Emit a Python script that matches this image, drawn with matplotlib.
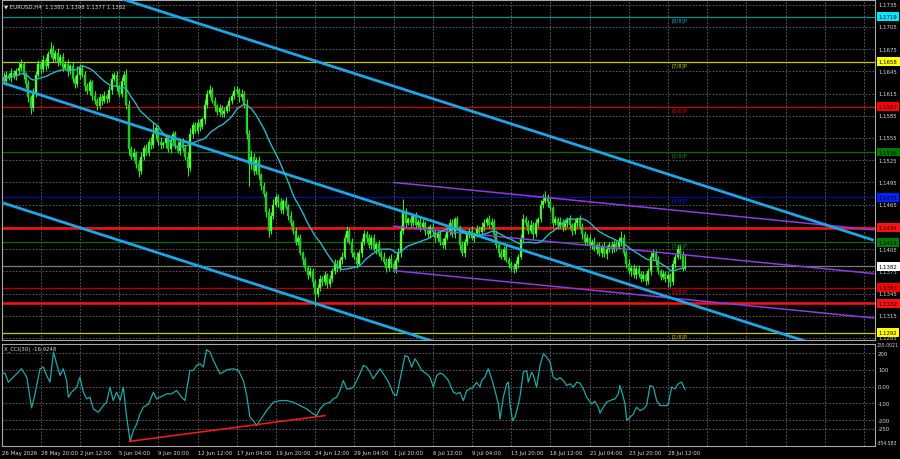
import matplotlib
matplotlib.use('Agg')
import matplotlib.pyplot as plt
import matplotlib.transforms as mtransforms
import pandas as pd

# ---------------- DATA ----------------
symbol_title = "\u25BC EURUSD,H4  1.1380 1.1398 1.1377 1.1382"
cci_title = "X_CCI(30) -16.9248"

first_open = 1.1640
closes = [
    1.1638, 1.1632, 1.1640, 1.1636, 1.1643, 1.1639, 1.1645, 1.1650, 1.1655, 1.1640,
    1.1628, 1.1610, 1.1595, 1.1615, 1.1640, 1.1655, 1.1648, 1.1660, 1.1652, 1.1668,
    1.1675, 1.1662, 1.1670, 1.1658, 1.1665, 1.1650, 1.1655, 1.1645, 1.1652, 1.1635,
    1.1628, 1.1640, 1.1650, 1.1640, 1.1625, 1.1618, 1.1630, 1.1612, 1.1605, 1.1598,
    1.1610, 1.1605, 1.1612, 1.1608, 1.1620, 1.1635, 1.1640, 1.1625, 1.1615, 1.1632,
    1.1640, 1.1600, 1.1540, 1.1530, 1.1535, 1.1520, 1.1510, 1.1530, 1.1542, 1.1535,
    1.1550, 1.1545, 1.1560, 1.1568, 1.1550, 1.1545, 1.1548, 1.1555, 1.1540, 1.1552,
    1.1560, 1.1545, 1.1538, 1.1550, 1.1542, 1.1530, 1.1515, 1.1560, 1.1572, 1.1565,
    1.1575, 1.1570, 1.1580, 1.1600, 1.1615, 1.1620, 1.1605, 1.1598, 1.1590, 1.1595,
    1.1588, 1.1592, 1.1598, 1.1605, 1.1612, 1.1618, 1.1620, 1.1610, 1.1615, 1.1600,
    1.1560, 1.1520, 1.1530, 1.1510, 1.1525, 1.1505, 1.1490, 1.1480, 1.1455, 1.1430,
    1.1450, 1.1465, 1.1475, 1.1468, 1.1458, 1.1470, 1.1462, 1.1450, 1.1440, 1.1430,
    1.1415, 1.1420, 1.1400, 1.1390, 1.1380, 1.1370, 1.1375, 1.1360, 1.1345, 1.1352,
    1.1365, 1.1360, 1.1370, 1.1358, 1.1365, 1.1375, 1.1385, 1.1380, 1.1390, 1.1395,
    1.1420, 1.1430, 1.1415, 1.1400, 1.1395, 1.1385, 1.1400, 1.1415, 1.1425, 1.1420,
    1.1410, 1.1420, 1.1405, 1.1412, 1.1400, 1.1395, 1.1388, 1.1380, 1.1392, 1.1385,
    1.1378, 1.1390, 1.1400, 1.1430, 1.1455, 1.1440, 1.1445, 1.1440, 1.1450, 1.1438,
    1.1442, 1.1435, 1.1440, 1.1430, 1.1425, 1.1435, 1.1428, 1.1420, 1.1425, 1.1415,
    1.1410, 1.1420, 1.1430, 1.1440, 1.1425, 1.1445, 1.1435, 1.1410, 1.1400, 1.1415,
    1.1425, 1.1430, 1.1420, 1.1425, 1.1432, 1.1428, 1.1435, 1.1440, 1.1445, 1.1438,
    1.1442, 1.1425, 1.1410, 1.1400, 1.1395, 1.1405, 1.1390, 1.1385, 1.1380, 1.1378,
    1.1385, 1.1395, 1.1420, 1.1445, 1.1440, 1.1430, 1.1438, 1.1425, 1.1440, 1.1445,
    1.1465, 1.1470, 1.1475, 1.1468, 1.1460, 1.1440, 1.1445, 1.1438, 1.1442, 1.1435,
    1.1440, 1.1445, 1.1437, 1.1430, 1.1440, 1.1445, 1.1435, 1.1425, 1.1415, 1.1420,
    1.1410, 1.1415, 1.1405, 1.1410, 1.1400, 1.1408, 1.1398, 1.1405, 1.1410, 1.1405,
    1.1412, 1.1408, 1.1415, 1.1420, 1.1400, 1.1385, 1.1375, 1.1380, 1.1370, 1.1378,
    1.1372, 1.1365, 1.1370, 1.1362, 1.1375, 1.1395, 1.1400, 1.1390, 1.1375, 1.1368,
    1.1372, 1.1365, 1.1370, 1.1360, 1.1385, 1.1395, 1.1405, 1.1398, 1.1380, 1.1382,
]
wick_up_pips = [
    4, 6, 5, 3, 6, 4, 5, 7, 6, 3,
    4, 5, 3, 8, 6, 5, 4, 7, 5, 4,
    10, 5, 4, 6, 3, 5, 4, 6, 3, 5,
    4, 12, 5, 3, 6, 4, 5, 3, 6, 4,
    5, 4, 6, 3, 5, 8, 4, 5, 3, 6,
    5, 8, 6, 4, 7, 3, 5, 6, 4, 5,
    4, 6, 17, 5, 4, 6, 3, 5, 4, 6,
    5, 4, 6, 3, 5, 4, 6, 8, 5, 4,
    5, 6, 4, 7, 5, 6, 4, 5, 3, 6,
    4, 5, 3, 6, 4, 7, 5, 3, 6, 4,
    8, 6, 9, 5, 4, 6, 3, 5, 4, 6,
    5, 8, 4, 5, 6, 3, 5, 4, 6, 4,
    5, 4, 6, 3, 5, 4, 6, 5, 4, 6,
    5, 4, 6, 3, 5, 4, 6, 5, 4, 6,
    5, 6, 4, 5, 3, 6, 4, 5, 6, 4,
    5, 4, 6, 3, 5, 4, 6, 5, 4, 6,
    4, 5, 6, 8, 17, 5, 4, 6, 3, 5,
    4, 6, 5, 3, 6, 4, 5, 3, 6, 4,
    5, 6, 4, 5, 6, 4, 5, 3, 6, 4,
    5, 4, 6, 3, 5, 4, 6, 5, 4, 6,
    5, 4, 6, 3, 5, 4, 6, 5, 4, 6,
    5, 4, 6, 8, 5, 4, 6, 3, 5, 4,
    6, 10, 8, 4, 6, 3, 5, 4, 6, 4,
    5, 4, 6, 3, 5, 4, 6, 5, 4, 6,
    5, 4, 6, 3, 5, 4, 6, 5, 4, 6,
    5, 4, 6, 10, 5, 4, 6, 3, 5, 4,
    5, 4, 6, 3, 5, 6, 5, 4, 6, 3,
    5, 4, 6, 3, 5, 4, 6, 5, 4, 16,
]
wick_dn_pips = [
    5, 4, 6, 3, 5, 4, 6, 5, 4, 6,
    5, 6, 8, 4, 5, 3, 6, 4, 5, 3,
    4, 5, 3, 6, 4, 5, 3, 6, 4, 5,
    6, 4, 5, 3, 6, 4, 5, 6, 4, 5,
    4, 5, 3, 6, 4, 5, 3, 6, 4, 5,
    5, 6, 8, 4, 5, 6, 8, 4, 5, 3,
    4, 5, 3, 6, 4, 5, 3, 6, 4, 5,
    4, 5, 3, 6, 4, 5, 11, 4, 5, 3,
    4, 5, 3, 6, 4, 5, 3, 6, 4, 5,
    4, 5, 3, 6, 4, 5, 3, 6, 4, 5,
    6, 30, 7, 5, 4, 6, 5, 4, 6, 8,
    4, 5, 3, 6, 4, 5, 3, 6, 4, 5,
    4, 5, 3, 6, 4, 5, 3, 6, 18, 5,
    4, 5, 3, 6, 4, 5, 3, 6, 4, 5,
    4, 5, 3, 6, 4, 5, 3, 6, 4, 5,
    4, 5, 3, 6, 4, 5, 3, 6, 4, 5,
    4, 5, 3, 6, 4, 5, 3, 6, 4, 5,
    4, 5, 3, 6, 4, 5, 3, 6, 4, 5,
    4, 5, 3, 6, 4, 5, 3, 6, 4, 5,
    4, 5, 3, 6, 4, 5, 3, 6, 4, 5,
    4, 5, 3, 6, 4, 5, 3, 6, 4, 5,
    4, 5, 3, 6, 4, 5, 3, 6, 4, 5,
    4, 5, 3, 6, 4, 5, 3, 6, 4, 5,
    4, 5, 3, 6, 4, 5, 3, 6, 4, 5,
    4, 5, 3, 6, 4, 5, 3, 6, 4, 5,
    4, 5, 3, 6, 4, 5, 3, 6, 4, 5,
    4, 5, 3, 6, 4, 5, 3, 6, 4, 5,
    4, 5, 11, 6, 4, 5, 3, 6, 4, 3,
]
ma_period = 20

# CCI trace (bar position, value)
cci_bars = [0, 1.4, 2.8, 4.8, 8.2, 10.3, 12.3, 13.7, 15.7, 17.1, 18.4, 19.8, 21.2, 22.5, 23.9,
            25.2, 26.6, 27.3, 28.6, 30.7, 32.0, 33.4, 34.8, 36.1, 37.5, 39.5, 41.6, 42.9, 44.3,
            45.6, 47.0, 48.4, 49.7, 51.1, 52.5, 53.8, 55.2, 56.5, 57.9, 60.0, 62.0, 63.3, 64.7,
            67.4, 69.4, 71.5, 73.5, 74.9, 76.9, 78.3, 79.6, 81.0, 82.4, 83.7, 85.1, 86.5, 87.8,
            89.2, 90.5, 91.9, 94.6, 96.7, 98.7, 100.1, 101.4, 102.8, 104.1, 105.5, 106.9, 108.2,
            111.0, 113.7, 116.4, 119.1, 121.8, 124.6, 127.3, 128.6, 130.0, 132.0, 134.1, 135.4,
            136.8, 138.2, 139.5, 140.9, 142.2, 143.6, 145.0, 146.3, 147.7, 149.0, 150.4, 151.7,
            153.1, 154.5, 155.8, 157.2, 158.6, 159.9, 161.3, 162.6, 164.0, 164.7, 166.0, 167.4,
            168.8, 170.1, 171.5, 173.5, 174.9, 176.3, 177.6, 179.0, 180.3, 182.4, 184.4, 185.8,
            187.1, 188.5, 189.9, 191.2, 192.6, 193.9, 195.3, 196.0, 197.3, 198.7, 200.1, 201.4,
            202.8, 203.5, 204.8, 206.2, 206.9, 207.5, 208.6, 209.6, 211.0, 211.6, 213.0, 214.4,
            215.0, 216.4, 217.1, 218.4, 219.8, 221.2, 222.5, 223.9, 225.2, 226.6, 228.0, 229.3,
            230.7, 232.0, 233.4, 234.8, 236.1, 237.5, 238.8, 240.9, 242.2, 243.6, 244.3, 245.6,
            247.0, 248.3, 250.4, 251.8, 252.4, 253.1, 254.5, 255.2, 256.5, 257.9, 259.2, 260.6,
            262.0, 263.3, 264.7, 266.1, 267.4, 268.8, 270.1, 271.5, 272.2, 273.5, 274.9, 276.2,
            277.6, 279.0]
cci_vals = [77, 81, 27, 57, 107, 57, -127, -43, 107, 117, 67, 27, 207, 137, 67,
            107, 37, -63, -33, -3, 57, -33, -73, -63, -133, -153, -113, -93, -3,
            -83, -33, -83, -3, -183, -327, -263, -223, -163, -123, -103, -33, -73, -63,
            -43, -43, -23, -63, -83, 97, 97, 127, 137, 117, 221, 207, 157, 117,
            77, 87, 101, 107, 97, 37, -53, -183, -203, -233, -203, -173, -143,
            -93, -83, -83, -93, -113, -133, -163, -173, -133, -103, -93, -73,
            -63, -23, 37, -13, -13, -3, 37, 77, 127, 117, 87, 47,
            77, 107, 77, 47, 7, -43, -53, 37, 137, 187, 177, 117,
            167, 137, 97, 77, 57, -3, 67, 81, 73, 37, -33, -43,
            -33, -83, -23, -13, -3, 27, -3, 37, 57, 107, 47, -23,
            -103, -193, -63, 17, 27, -103, -203, -183, -103, -63, 87, 97,
            27, 87, 67, -3, 127, 197, 177, 147, 57, 41, 53, 37,
            7, 17, -3, 27, 21, -13, -63, -103, -87, -123, -159, -123,
            -93, -83, -73, -43, 7, -23, -103, -203, -183, -163, -123, -143,
            -133, -113, 7, -3, -83, -113, -113, -113, -103, -3, -13, 17,
            27, -17]
cci_trend_bars = [52.2, 132.0]
cci_trend_vals = [-327, -173]
cci_min, cci_max = -354.583, 255.0021
cci_ticks = [200, 100, 0, -100, -200, -250]
cci_tick_labels = ["200", "100", "0.00", "-100", "-200", "-250"]

# Murray Math levels
murray_levels = [1.1719, 1.1658, 1.1597, 1.1536, 1.1475, 1.1414, 1.1353, 1.1292]
murray_names = ["[8/8]P", "[7/8]P", "[6/8]P", "[5/8]P", "[4/8]P", "[3/8]P", "[2/8]P", "[1/8]P"]
murray_line_colors = ["#0a9090", "#c8c800", "#d00000", "#0b6b0b", "#0010a0", "#0b6b0b", "#b00000", "#c8c800"]
murray_box_colors = ["#00e8ff", "#ffff00", "#ff0000", "#007a00", "#0022ff", "#007a00", "#ff0000", "#ffff00"]
murray_text_colors = ["#10a8b8", "#c8c800", "#e00000", "#2e7d2e", "#1a1aff", "#2e7d2e", "#e00000", "#c8c800"]

sr_levels = [1.1434, 1.1332]
current_price = 1.1382

# Regression channels (start/end bar, prices)
blue_channel_bars = [0, 356]
blue_upper = [1.1795, 1.1417]
blue_middle = [1.1630, 1.1251]
blue_lower = [1.1468, 1.1089]
purple_channel_bars = [160, 356]
purple_upper = [1.1495, 1.1431]
purple_middle = [1.1436, 1.1372]
purple_lower = [1.1376, 1.1312]

price_ticks = [1.1735, 1.1705, 1.1675, 1.1645, 1.1615, 1.1585, 1.1555, 1.1525,
               1.1495, 1.1465, 1.1435, 1.1405, 1.1375, 1.1345, 1.1315, 1.1285]
time_labels = ["26 May 2026", "28 May 20:00", "2 Jun 12:00", "5 Jun 04:00", "9 Jun 20:00",
               "12 Jun 12:00", "17 Jun 04:00", "19 Jun 20:00", "24 Jun 12:00", "29 Jun 04:00",
               "1 Jul 20:00", "6 Jul 12:00", "9 Jul 04:00", "13 Jul 20:00", "16 Jul 12:00",
               "21 Jul 04:00", "23 Jul 20:00", "28 Jul 12:00"]
bars_per_label = 16

# ---------------- LAYOUT ----------------
W, H = 900, 460
BG = "black"
GRID = "#6a6a6a"
TXT = "#d8d8d8"
FS = 3.9

def rect(l, t, r, b):
    return [l / W, 1 - b / H, (r - l) / W, (b - t) / H]

fig = plt.figure(figsize=(W / 100, H / 100), dpi=100, facecolor=BG)
ax = fig.add_axes(rect(2, 1, 875, 341), facecolor=BG)
axc = fig.add_axes(rect(2, 345, 875, 447), facecolor=BG)

px0, pxs = 1.5, 2.45
xlim = ((2 - px0) / pxs, (875 - px0) / pxs)
for a in (ax, axc):
    a.set_xlim(*xlim)
    a.set_xticks([])
    a.set_yticks([])
    for s in a.spines.values():
        s.set_color("#a8a8a8")
        s.set_linewidth(0.8)
ax.set_ylim(1.12823, 1.17413)
axc.set_ylim(cci_min, cci_max)

# grids
grid_bars = list(range(0, int(xlim[1]) + 1, bars_per_label))
dash = (0, (2.0, 2.0))
for a in (ax, axc):
    for b in grid_bars:
        a.axvline(b, color=GRID, lw=0.6, ls=dash, zorder=0)
for p in price_ticks:
    ax.axhline(p, color=GRID, lw=0.6, ls=dash, zorder=0)
for v in cci_ticks:
    axc.axhline(v, color=GRID, lw=0.6, ls=dash, zorder=0)

# ---------------- MAIN PANEL ----------------
n = len(closes)
idx = list(range(n))
opens = [first_open] + closes[:-1]
highs = [max(o, c) + u * 1e-4 for o, c, u in zip(opens, closes, wick_up_pips)]
lows = [min(o, c) - d * 1e-4 for o, c, d in zip(opens, closes, wick_dn_pips)]

# Murray levels
for lvl, lc, nm, tc in zip(murray_levels, murray_line_colors, murray_names, murray_text_colors):
    ax.axhline(lvl, color=lc, lw=0.9, zorder=1)
    ax.text(273.3, lvl - 0.00004, nm, color=tc, fontsize=FS, va="top", ha="left", zorder=6)
# current price line
ax.axhline(current_price, color="#7a7a7a", lw=0.9, zorder=1)
# support/resistance
for lvl in sr_levels:
    ax.axhline(lvl, color="#ff1010", lw=1.8, zorder=1.5)

# candles
body_bottom = [min(o, c) for o, c in zip(opens, closes)]
body_h = [max(abs(c - o), 0.00006) for o, c in zip(opens, closes)]
body_col = ["#6cff3a" if c >= o else "#1fc41f" for o, c in zip(opens, closes)]
ax.vlines(idx, lows, highs, color="#2fe62f", lw=0.8, zorder=2)
ax.bar(idx, body_h, bottom=body_bottom, width=0.78, color=body_col,
       edgecolor="#29d829", linewidth=0.3, zorder=2.1)

# moving average
ma = pd.Series(closes).rolling(ma_period, min_periods=1).mean()
ax.plot(idx, ma, color="#28b8c4", lw=1.0, zorder=4)

# channels
for ys in (blue_upper, blue_middle, blue_lower):
    ax.plot(blue_channel_bars, ys, color="#1ca6e6", lw=2.0, zorder=3.5, solid_capstyle="butt")
for ys in (purple_upper, purple_middle, purple_lower):
    ax.plot(purple_channel_bars, ys, color="#8e3ae8", lw=1.1, zorder=3.4)

# right price labels
tr = mtransforms.blended_transform_factory(ax.transAxes, ax.transData)
for p in price_ticks:
    ax.text(1.0045, p, f"{p:.4f}", transform=tr, fontsize=FS, color=TXT,
            va="center", ha="left", clip_on=False, zorder=5)
box_levels = murray_levels + sr_levels + [current_price]
box_cols = murray_box_colors + ["#ff1010", "#ff1010"] + ["#ffffff"]
for p, c in zip(box_levels, box_cols):
    ax.text(1.0045, p, f"{p:.4f}", transform=tr, fontsize=FS, color="black",
            va="center", ha="left", clip_on=False, zorder=7,
            bbox=dict(boxstyle="square,pad=0.35", fc=c, ec="none"))

fig.text(4 / W, 1 - 6.5 / H, symbol_title, fontsize=FS, color=TXT, va="center", ha="left")

# ---------------- CCI PANEL ----------------
axc.plot(cci_bars, cci_vals, color="#20a8a8", lw=0.9, zorder=3)
axc.plot(cci_trend_bars, cci_trend_vals, color="#ff1a1a", lw=1.1, zorder=4)
trc = mtransforms.blended_transform_factory(axc.transAxes, axc.transData)
for v, s in zip(cci_ticks, cci_tick_labels):
    axc.text(1.0035, v, s, transform=trc, fontsize=FS, color=TXT, va="center",
             ha="left", clip_on=False)
axc.text(1.002, cci_max - 5, "255.0021", transform=trc, fontsize=3.3, color=TXT,
         va="center", ha="left", clip_on=False)
axc.text(1.002, cci_min + 20, "-354.583", transform=trc, fontsize=3.3, color=TXT,
         va="center", ha="left", clip_on=False)
fig.text(4 / W, 1 - 349.5 / H, cci_title, fontsize=FS, color=TXT, va="center", ha="left")

# time labels
trx = mtransforms.blended_transform_factory(axc.transData, fig.transFigure)
for i, lab in enumerate(time_labels):
    axc.text(i * bars_per_label, 1 - 453.5 / H, lab, transform=trx, fontsize=FS,
             color=TXT, va="center", ha="left", clip_on=False)

fig.savefig("out.png", dpi=100, facecolor=BG)
